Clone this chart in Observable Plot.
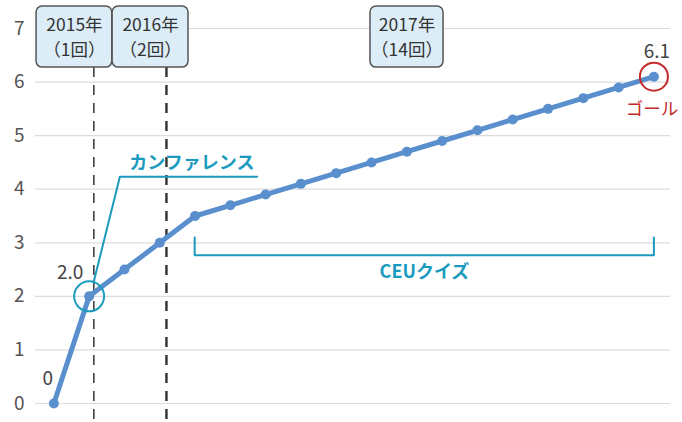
<!DOCTYPE html>
<html><head><meta charset="utf-8">
<script src="https://cdn.jsdelivr.net/npm/d3@7"></script>
<script src="https://cdn.jsdelivr.net/npm/@observablehq/plot@0.6"></script>
<style>body{margin:0;background:#fff} svg{display:block}</style>
</head><body><div id="chart"></div>
<script>
// cumulative points after each session (start, 2015 x1, 2016 x2, 2017 x14)
const values = [0, 2.0, 2.5, 3.0, 3.5, 3.7, 3.9, 4.1, 4.3, 4.5, 4.7, 4.9, 5.1, 5.3, 5.5, 5.7, 5.9, 6.1];
const yTicks = [0, 1, 2, 3, 4, 5, 6, 7];
const periodYears = ["2015年", "2016年", "2017年"];
const periodCounts = ["（1回）", "（2回）", "（14回）"];
const valueLabels = ["0", "2.0", "6.1"];
const conferenceLabel = "カンファレンス";
const quizLabel = "CEUクイズ";
const goalLabel = "ゴール";

// annotation layout (data units)
const L = {
  xDomain: [-0.52, 17.47],
  boxX: [[-0.49, 1.655], [1.665, 3.815], [8.97, 11.04]],
  boxY: [6.27, 7.41],
  dividers: [1.133, 3.19],
  divBottom: -0.37,
  confLeader: [[1.125, 2.26], [1.87, 4.232], [5.76, 4.232]],
  confText: [3.91, 4.49],
  quizFrom: 4, quizTo: 17, quizY: 2.766, quizTop: 3.10, quizText: 2.447
};

const blue = "#5a8fce", teal = "#1b9ac0", red = "#c42b2b";
const font = "'Noto Sans CJK JP', 'Noto Sans', sans-serif";

const pts = values.map((v, i) => ({i, v}));
const boxes = L.boxX.map(([x1, x2], k) => ({x1, x2, y1: L.boxY[0], y2: L.boxY[1], year: periodYears[k], count: periodCounts[k], xc: (x1 + x2) / 2, yc: (L.boxY[0] + L.boxY[1]) / 2}));
const conf = L.confLeader.map(([x, y]) => ({x, y}));
const quiz = [
  {x: L.quizFrom - 0.01, y: L.quizTop}, {x: L.quizFrom - 0.01, y: L.quizY},
  {x: L.quizTo, y: L.quizY}, {x: L.quizTo, y: L.quizTop}
];
const last = pts[pts.length - 1];

const chart = Plot.plot({
  width: 682, height: 422,
  marginLeft: 35, marginRight: 12, marginTop: 28, marginBottom: 19,
  style: {fontFamily: font, background: "#fff", overflow: "visible"},
  x: {domain: L.xDomain, axis: null},
  y: {domain: [0, 7], axis: null},
  marks: [
    Plot.ruleY(yTicks, {stroke: "#dcdcdc", strokeWidth: 1.2}),
    Plot.axisY(yTicks, {tickSize: 0, tickPadding: 11, fontSize: 19, fill: "#555", label: null, tickFormat: d3.format("d")}),
    Plot.ruleX([L.dividers[0]], {y1: L.boxY[0], y2: L.divBottom, stroke: "#333", strokeWidth: 1.5, strokeDasharray: "10,8"}),
    Plot.ruleX([L.dividers[1]], {y1: L.boxY[0], y2: L.divBottom, stroke: "#333", strokeWidth: 2.4, strokeDasharray: "10,8"}),
    Plot.rect(boxes, {x1: "x1", x2: "x2", y1: "y1", y2: "y2", fill: "#dcedf8", stroke: "#555", strokeWidth: 1.5, rx: 6}),
    Plot.text(boxes, {x: "xc", y: "yc", text: "year", dy: -12, fontSize: 17.5, fill: "#333"}),
    Plot.text(boxes, {x: "xc", y: "yc", text: "count", dy: 13, fontSize: 17.5, fill: "#333"}),
    Plot.line(conf, {x: "x", y: "y", stroke: teal, strokeWidth: 2}),
    Plot.text([conferenceLabel], {x: L.confText[0], y: L.confText[1], text: d => d, fill: teal, fontSize: 18, fontWeight: "bold"}),
    Plot.line(quiz, {x: "x", y: "y", stroke: teal, strokeWidth: 2}),
    Plot.text([quizLabel], {x: (L.quizFrom + L.quizTo) / 2, y: L.quizText, text: d => d, fill: teal, fontSize: 18, fontWeight: "bold"}),
    Plot.line(pts, {x: "i", y: "v", stroke: blue, strokeWidth: 5, strokeLinejoin: "round"}),
    Plot.dot(pts, {x: "i", y: "v", r: 5, fill: blue}),
    Plot.dot([pts[1]], {x: "i", y: "v", r: 15, stroke: teal, strokeWidth: 2, fill: "none"}),
    Plot.dot([last], {x: "i", y: "v", r: 14, stroke: red, strokeWidth: 2, fill: "none"}),
    Plot.text([pts[0]], {x: "i", y: "v", text: () => valueLabels[0], dx: -6, dy: -25, fontSize: 19, fill: "#444"}),
    Plot.text([pts[1]], {x: "i", y: "v", text: () => valueLabels[1], dx: -19, dy: -23, fontSize: 19, fill: "#444"}),
    Plot.text([last], {x: "i", y: "v", text: () => valueLabels[2], dx: 3, dy: -25, fontSize: 19, fill: "#444"}),
    Plot.text([last], {x: "i", y: "v", text: () => goalLabel, dx: -2, dy: 33, fontSize: 17.5, fill: red})
  ]
});
document.getElementById("chart").appendChild(chart);
</script></body></html>
